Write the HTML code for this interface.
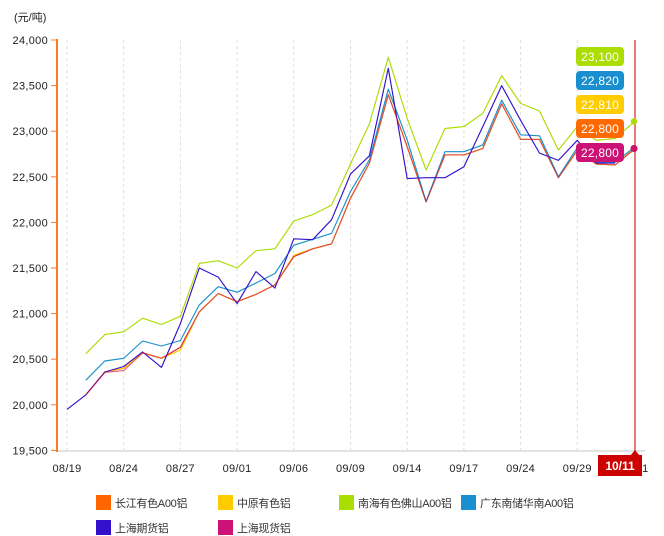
<!DOCTYPE html>
<html><head><meta charset="utf-8"><style>
html,body{margin:0;padding:0;background:#fff;}
body{width:664px;height:536px;overflow:hidden;position:relative;font-family:"Liberation Sans","Noto Sans CJK SC",sans-serif;}
svg{position:absolute;left:0;top:0;}
.yl{font-size:11px;fill:#222;text-anchor:end;letter-spacing:0.3px;}
.xl{font-size:11px;fill:#222;text-anchor:middle;letter-spacing:0.3px;}
.lg{font-size:11px;fill:#333;letter-spacing:-0.3px;}
.bt{font-size:12px;fill:#fff;text-anchor:middle;letter-spacing:0.2px;}
</style></head><body>
<svg id="c" width="664" height="536" viewBox="0 0 664 536" xmlns="http://www.w3.org/2000/svg">
<text x="14" y="21" font-size="11" fill="#222" font-family="Liberation Sans, Noto Sans CJK SC, sans-serif">(元/吨)</text>
<g stroke="#dcdcdc" stroke-width="1" stroke-dasharray="3,3">
<line x1="67" y1="40" x2="67" y2="451"/>
<line x1="123.7" y1="40" x2="123.7" y2="451"/>
<line x1="180.4" y1="40" x2="180.4" y2="451"/>
<line x1="237.1" y1="40" x2="237.1" y2="451"/>
<line x1="293.8" y1="40" x2="293.8" y2="451"/>
<line x1="350.5" y1="40" x2="350.5" y2="451"/>
<line x1="407.2" y1="40" x2="407.2" y2="451"/>
<line x1="463.9" y1="40" x2="463.9" y2="451"/>
<line x1="520.6" y1="40" x2="520.6" y2="451"/>
<line x1="577.3" y1="40" x2="577.3" y2="451"/>
</g>
<line x1="57" y1="451" x2="645" y2="451" stroke="#e2e2e2" stroke-width="2"/>
<line x1="57" y1="39" x2="57" y2="452" stroke="#ff7a22" stroke-width="2"/>
<g stroke="#ff7a22" stroke-width="1">
<line x1="51" y1="40" x2="57" y2="40"/><line x1="51" y1="85.6" x2="57" y2="85.6"/><line x1="51" y1="131.2" x2="57" y2="131.2"/><line x1="51" y1="176.8" x2="57" y2="176.8"/><line x1="51" y1="222.4" x2="57" y2="222.4"/><line x1="51" y1="268" x2="57" y2="268"/><line x1="51" y1="313.6" x2="57" y2="313.6"/><line x1="51" y1="359.2" x2="57" y2="359.2"/><line x1="51" y1="404.8" x2="57" y2="404.8"/><line x1="51" y1="450.4" x2="57" y2="450.4"/>
</g>
<g class="yl">
<text x="48" y="44">24,000</text><text x="48" y="89.6">23,500</text><text x="48" y="135.2">23,000</text><text x="48" y="180.8">22,500</text><text x="48" y="226.4">22,000</text><text x="48" y="272">21,500</text><text x="48" y="317.6">21,000</text><text x="48" y="363.2">20,500</text><text x="48" y="408.8">20,000</text><text x="48" y="454.4">19,500</text>
</g>
<g class="xl">
<text x="67" y="472">08/19</text><text x="123.7" y="472">08/24</text><text x="180.4" y="472">08/27</text><text x="237.1" y="472">09/01</text><text x="293.8" y="472">09/06</text><text x="350.5" y="472">09/09</text><text x="407.2" y="472">09/14</text><text x="463.9" y="472">09/17</text><text x="520.6" y="472">09/24</text><text x="577.3" y="472">09/29</text><text x="634" y="472">10/01</text>
</g>
<g id="series" fill="none" stroke-width="1.15" stroke-linejoin="round"></g>
<line x1="635" y1="40" x2="635" y2="451" stroke="#e05050" stroke-width="1.5"/>
<circle cx="634" cy="121.5" r="3.2" fill="#aadd00"/>
<circle cx="634" cy="148.5" r="3.6" fill="#cc1166"/>
<g>
<rect x="576" y="47" width="48" height="19" rx="4" fill="#aadd00"/>
<text class="bt" x="600" y="61">23,100</text>
<rect x="576" y="71" width="48" height="19" rx="4" fill="#1a8fcf"/>
<text class="bt" x="600" y="85">22,820</text>
<rect x="576" y="95" width="48" height="19" rx="4" fill="#ffcc00"/>
<text class="bt" x="600" y="109">22,810</text>
<rect x="576" y="119" width="48" height="19" rx="4" fill="#ff6a00"/>
<text class="bt" x="600" y="133">22,800</text>
<rect x="576" y="143" width="48" height="19" rx="4" fill="#cc1177"/>
<text class="bt" x="600" y="157">22,800</text>
</g>
<rect x="598" y="455" width="44" height="21" fill="#cc0000"/>
<polygon points="630,456 635,450 640,456" fill="#cc0000"/>
<text x="620" y="470" font-size="12" font-weight="bold" fill="#fff" text-anchor="middle">10/11</text>
<g>
<rect x="96" y="495" width="15" height="15" fill="#ff6600"/><text class="lg" x="115" y="507">长江有色A00铝</text>
<rect x="218" y="495" width="15" height="15" fill="#ffcc00"/><text class="lg" x="237" y="507">中原有色铝</text>
<rect x="339" y="495" width="15" height="15" fill="#aadd00"/><text class="lg" x="358" y="507">南海有色佛山A00铝</text>
<rect x="461" y="495" width="15" height="15" fill="#1a8fcf"/><text class="lg" x="480" y="507">广东南储华南A00铝</text>
<rect x="96" y="520" width="15" height="15" fill="#3311cc"/><text class="lg" x="115" y="532">上海期货铝</text>
<rect x="218" y="520" width="15" height="15" fill="#cc1177"/><text class="lg" x="237" y="532">上海现货铝</text>
</g>
</svg>
<script>
(function(){
var N=null;
var orange=[N,20110,20360,20400,20570,20510,20630,21020,21220,21130,21210,21315,21625,21710,21765,22265,22650,23400,22830,22225,22740,22740,22810,23300,22910,22910,22490,22790,22640,22630,22800];
var yellow=orange.slice(); yellow[6]=20600; yellow[30]=22810; yellow[12]=21640;
var magenta=orange.slice(); magenta[3]=20375; magenta[2]=20355;
var lime=[N,20560,20770,20800,20950,20880,20970,21550,21580,21500,21690,21710,22015,22085,22190,22640,23080,23810,23140,22575,23030,23050,23196,23609,23305,23221,22794,23050,22900,22920,23100];
var blue=[N,20270,20480,20510,20700,20645,20705,21095,21295,21235,21335,21440,21750,21815,21880,22340,22685,23460,22905,22230,22775,22775,22850,23340,22960,22950,22500,22820,22660,22660,22820];
var purple=[19950,20110,20360,20420,20580,20410,20890,21500,21400,21110,21460,21280,21820,21810,22030,22530,22730,23690,22480,22490,22490,22610,23050,23500,23120,22760,22680,22900,22650,22650,N];
function pts(a){var s=[];for(var i=0;i<a.length;i++){if(a[i]==null)continue;var x=67+i*18.9;var y=40+(24000-a[i])*0.0912;s.push(x.toFixed(1)+","+y.toFixed(1));}return s.join(" ");}
var g=document.getElementById("series");
var list=[[orange,"#ff6600",1],[yellow,"#ffcc00",1],[lime,"#aadd00",1],[blue,"#1a8fcf",1],[purple,"#3311cc",1],[magenta,"#cc1155",0.65]];
list.forEach(function(s){var p=document.createElementNS("http://www.w3.org/2000/svg","polyline");p.setAttribute("points",pts(s[0]));p.setAttribute("stroke",s[1]);p.setAttribute("stroke-opacity",s[2]);g.appendChild(p);});
})();
</script>
</body></html>
